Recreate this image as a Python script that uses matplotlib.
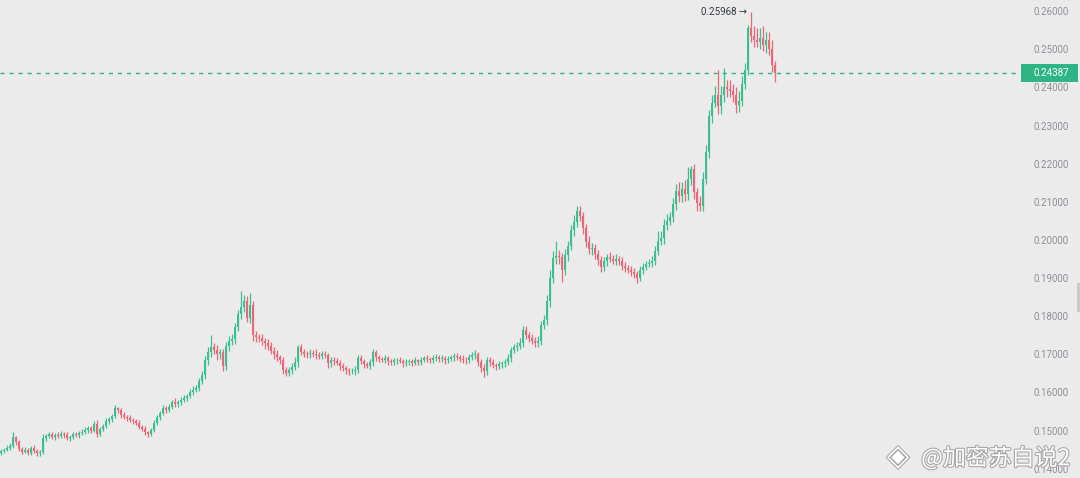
import matplotlib
matplotlib.use("Agg")
import matplotlib.pyplot as plt
import matplotlib.patheffects as pe
from matplotlib.patches import Rectangle
import numpy as np

# candle closes, one row = 10 candles
closes = [
    0.1446, 0.1450, 0.1455, 0.1460, 0.1482, 0.1470, 0.1452, 0.1445, 0.1450, 0.1442,
    0.1453, 0.1447, 0.1440, 0.1443, 0.1480, 0.1486, 0.1490, 0.1484, 0.1488, 0.1486,
    0.1492, 0.1488, 0.1481, 0.1484, 0.1490, 0.1488, 0.1494, 0.1497, 0.1502, 0.1506,
    0.1500, 0.1518, 0.1492, 0.1505, 0.1512, 0.1524, 0.1530, 0.1537, 0.1558, 0.1553,
    0.1540, 0.1536, 0.1533, 0.1528, 0.1525, 0.1520, 0.1510, 0.1505, 0.1496, 0.1490,
    0.1502, 0.1520, 0.1536, 0.1545, 0.1558, 0.1554, 0.1562, 0.1576, 0.1569, 0.1574,
    0.1580, 0.1585, 0.1590, 0.1600, 0.1606, 0.1612, 0.1630, 0.1645, 0.1685, 0.1705,
    0.1720, 0.1712, 0.1700, 0.1705, 0.1670, 0.1722, 0.1735, 0.1740, 0.1772, 0.1805,
    0.1825, 0.1840, 0.1795, 0.1830, 0.1750, 0.1745, 0.1742, 0.1736, 0.1730, 0.1722,
    0.1710, 0.1700, 0.1692, 0.1684, 0.1660, 0.1652, 0.1658, 0.1668, 0.1680, 0.1718,
    0.1706, 0.1702, 0.1700, 0.1704, 0.1702, 0.1698, 0.1696, 0.1700, 0.1698, 0.1676,
    0.1686, 0.1682, 0.1678, 0.1670, 0.1664, 0.1658, 0.1655, 0.1657, 0.1660, 0.1690,
    0.1682, 0.1674, 0.1670, 0.1680, 0.1705, 0.1692, 0.1688, 0.1686, 0.1690, 0.1682,
    0.1680, 0.1684, 0.1686, 0.1682, 0.1676, 0.1680, 0.1682, 0.1678, 0.1684, 0.1680,
    0.1686, 0.1690, 0.1688, 0.1684, 0.1690, 0.1692, 0.1688, 0.1691, 0.1685, 0.1689,
    0.1692, 0.1696, 0.1694, 0.1689, 0.1686, 0.1684, 0.1694, 0.1698, 0.1701, 0.1680,
    0.1665, 0.1655, 0.1686, 0.1680, 0.1672, 0.1669, 0.1674, 0.1676, 0.1680, 0.1690,
    0.1712, 0.1718, 0.1722, 0.1730, 0.1765, 0.1750, 0.1742, 0.1736, 0.1730, 0.1735,
    0.1778, 0.1790, 0.1840, 0.1900, 0.1952, 0.1958, 0.1955, 0.1920, 0.1960, 0.1985,
    0.2025, 0.2048, 0.2075, 0.2062, 0.2030, 0.1995, 0.1976, 0.1980, 0.1962, 0.1948,
    0.1928, 0.1944, 0.1954, 0.1950, 0.1946, 0.1950, 0.1944, 0.1932, 0.1926, 0.1922,
    0.1916, 0.1910, 0.1900, 0.1920, 0.1930, 0.1936, 0.1940, 0.1946, 0.1970, 0.1998,
    0.2004, 0.2040, 0.2050, 0.2060, 0.2095, 0.2128, 0.2114, 0.2134, 0.2120, 0.2160,
    0.2185, 0.2125, 0.2096, 0.2090, 0.2160, 0.2230, 0.2325, 0.2360, 0.2380, 0.2350,
    0.2380, 0.2400, 0.2395, 0.2390, 0.2380, 0.2355, 0.2365, 0.2410, 0.2445, 0.2555,
    0.2535, 0.2525, 0.2520, 0.2530, 0.2510, 0.2525, 0.2500, 0.2460, 0.2439,
]
first_open = 0.1440

# wick lengths above / below the body, in units of 0.0001
upper_wick = [
    6, 5, 8, 7, 15, 4, 6, 5, 7, 4,
    6, 8, 5, 6, 10, 5, 7, 6, 5, 8,
    6, 5, 9, 4, 6, 7, 5, 6, 8, 5,
    7, 6, 9, 5, 6, 8, 6, 7, 8, 5,
    6, 8, 5, 7, 5, 6, 9, 5, 7, 4,
    6, 8, 5, 7, 9, 6, 8, 5, 10, 6,
    7, 9, 6, 8, 10, 7, 9, 12, 10, 15,
    30, 10, 12, 8, 9, 10, 12, 14, 10, 12,
    40, 15, 12, 30, 10, 10, 9, 12, 8, 10,
    9, 8, 12, 7, 9, 6, 8, 10, 12, 6,
    8, 9, 7, 10, 8, 12, 7, 9, 8, 6,
    8, 7, 9, 6, 8, 5, 7, 6, 9, 8,
    9, 7, 6, 8, 10, 6, 7, 5, 8, 6,
    6, 7, 5, 8, 6, 7, 5, 6, 8, 5,
    7, 6, 8, 5, 7, 9, 6, 8, 5, 7,
    6, 8, 7, 5, 9, 6, 7, 8, 10, 6,
    7, 9, 8, 6, 7, 5, 8, 6, 7, 10,
    8, 9, 10, 12, 10, 9, 8, 12, 10, 12,
    10, 12, 15, 20, 18, 40, 15, 12, 15, 12,
    15, 18, 14, 14, 10, 12, 15, 12, 10, 12,
    10, 12, 10, 14, 10, 12, 9, 11, 10, 8,
    9, 10, 8, 12, 10, 9, 10, 12, 15, 25,
    20, 15, 18, 14, 16, 20, 25, 18, 22, 30,
    10, 15, 12, 20, 18, 20, 15, 20, 25, 65,
    25, 50, 20, 25, 18, 20, 25, 20, 18, 10,
    41.8, 25, 30, 25, 30, 20, 20, 25, 10,
]
lower_wick = [
    5, 6, 4, 7, 5, 8, 6, 7, 5, 6,
    6, 5, 8, 6, 5, 7, 6, 5, 8, 6,
    5, 7, 6, 8, 5, 6, 7, 5, 6, 8,
    6, 5, 8, 6, 7, 5, 6, 8, 5, 7,
    6, 5, 7, 6, 8, 5, 7, 6, 8, 6,
    5, 7, 6, 8, 5, 7, 6, 5, 8, 6,
    7, 6, 8, 5, 7, 6, 9, 8, 10, 12,
    12, 10, 14, 12, 15, 10, 12, 10, 12, 10,
    12, 15, 10, 12, 14, 12, 10, 12, 15, 10,
    10, 12, 9, 10, 12, 10, 8, 9, 10, 12,
    9, 8, 10, 9, 8, 10, 9, 8, 7, 12,
    8, 9, 7, 10, 8, 9, 8, 7, 10, 9,
    8, 9, 7, 8, 10, 9, 8, 7, 8, 9,
    7, 8, 9, 6, 10, 7, 8, 9, 7, 8,
    8, 7, 9, 8, 7, 8, 9, 7, 10, 8,
    7, 9, 8, 10, 8, 9, 7, 8, 9, 10,
    12, 15, 9, 10, 8, 9, 8, 10, 9, 8,
    9, 8, 10, 9, 12, 10, 9, 8, 12, 10,
    10, 12, 14, 15, 12, 15, 18, 30, 12, 14,
    12, 15, 14, 12, 15, 14, 12, 15, 12, 14,
    12, 10, 12, 9, 10, 11, 10, 12, 10, 9,
    10, 9, 12, 8, 10, 9, 8, 10, 12, 10,
    12, 14, 15, 12, 14, 16, 15, 14, 18, 15,
    15, 18, 20, 15, 14, 12, 15, 18, 12, 20,
    20, 18, 20, 15, 18, 22, 20, 15, 15, 12,
    15, 18, 15, 20, 15, 20, 15, 20, 25,
]
last_price = 0.24387
y_ticks = [0.14, 0.15, 0.16, 0.17, 0.18, 0.19, 0.20, 0.21, 0.22, 0.23, 0.24, 0.25, 0.26]

UP = "#3DBE8E"
DOWN = "#EC6677"
BG = "#EBEBEB"
FONT = ["Roboto", "DejaVu Sans"]

c = np.array(closes)
o = np.concatenate([[first_open], c[:-1]])
hi = np.maximum(o, c) + np.array(upper_wick) * 1e-4
lo = np.minimum(o, c) - np.array(lower_wick) * 1e-4
x = np.arange(len(c))
colors = np.where(c >= o, UP, DOWN)

fig = plt.figure(figsize=(10.8, 4.78), dpi=100, facecolor=BG)
ax = fig.add_axes([0, 0, 1020 / 1080, 1])
ax.set_facecolor(BG)

ax.vlines(x, lo, hi, colors=colors, linewidth=0.9)
body = np.maximum(np.abs(c - o), 0.00008)
ax.bar(x, body, bottom=np.minimum(o, c), width=0.62, color=colors, linewidth=0)

ax.set_xlim(-0.33, 339.7)
ax.set_ylim(0.13756, 0.26293)
ax.axhline(last_price, color="#2FB585", linewidth=1.0, dashes=(3, 3.5))

for s in ax.spines.values():
    s.set_visible(False)
ax.set_xticks([])
ax.yaxis.tick_right()
ax.set_yticks(y_ticks)
ax.set_yticklabels([f"{v:.5f}" for v in y_ticks])
ax.tick_params(axis="y", length=0, pad=9.5, labelsize=7, labelcolor="#8C9099")
for lab in ax.get_yticklabels():
    lab.set_family(FONT)

# last price tag on the axis
fig.canvas.draw()
_, ypix = ax.transData.transform((0, last_price))
fig.patches.append(Rectangle((1021 / 1080, (ypix - 9) / 478), 57 / 1080, 18 / 478,
                             transform=fig.transFigure, facecolor="#2FB585", edgecolor="none"))
fig.text(1033 / 1080, ypix / 478, f"{last_price:.5f}", color="white", fontsize=7,
         family=FONT, ha="left", va="center")

# scroll handle on the right edge
fig.patches.append(Rectangle((1077 / 1080, 166 / 478), 3 / 1080, 29 / 478,
                             transform=fig.transFigure, facecolor="#C9C9C9", edgecolor="none"))

# max price marker
imax = int(np.argmax(hi))
ax.annotate(f"{hi[imax]:.5f} \u2192", xy=(x[imax], hi[imax]), xytext=(-3, 0),
            textcoords="offset points", ha="right", va="center", fontsize=7,
            color="#333840", family=FONT)

# watermark
halo = [pe.withStroke(linewidth=1.6, foreground="#A8A8A8")]
fig.text(1070 / 1080, 20 / 478, "@加密苏白说2", ha="right", va="center", fontsize=16.5,
         color="white", family=["Noto Sans CJK SC", "DejaVu Sans"], path_effects=halo)
fig.text(898 / 1080, 21 / 478, "\u25C8", ha="center", va="center", fontsize=21,
         color="white", family=["DejaVu Sans"], path_effects=halo)

fig.savefig("out.png", dpi=100, facecolor=BG)
